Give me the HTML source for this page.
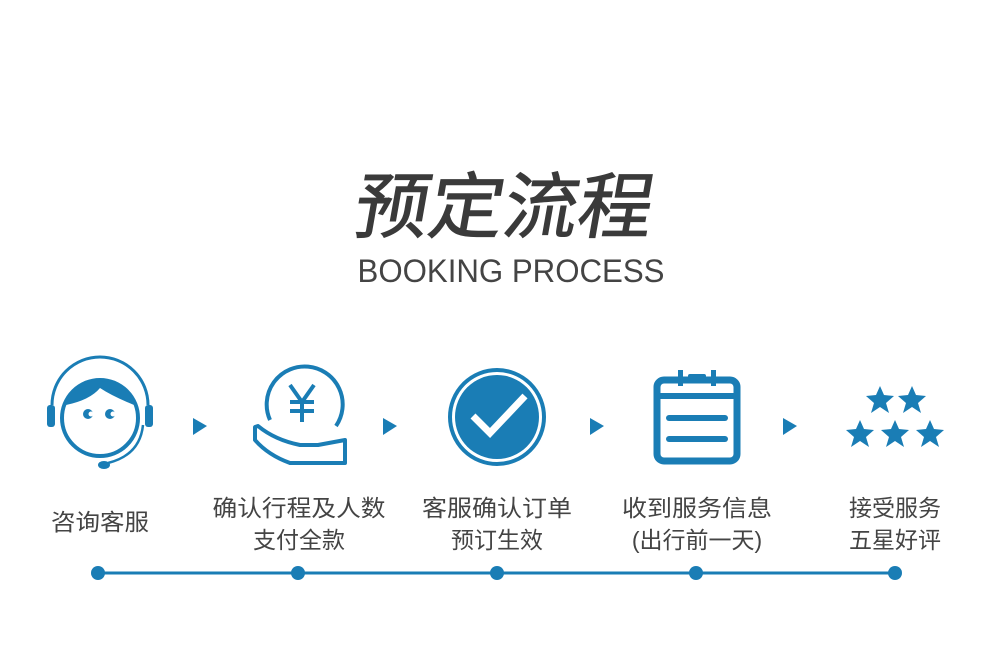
<!DOCTYPE html>
<html><head><meta charset="utf-8"><style>
html,body{margin:0;padding:0;background:#fff;}
svg{display:block;}
</style></head><body>
<svg width="1000" height="646" viewBox="0 0 1000 646" xmlns="http://www.w3.org/2000/svg">
<defs><polygon id="st" points="0,-14 4,-5 14,-4 6,3 9,13 0,7 -9,13 -6,3 -14,-4 -4,-5"/></defs>
<rect width="1000" height="646" fill="#fff"/>
<text x="500" y="232" text-anchor="middle" font-family="Liberation Sans, Noto Sans CJK SC, sans-serif" font-size="72" fill="#3a3a3a" stroke="#3a3a3a" stroke-width="1" transform="skewX(-10) translate(41,0)" textLength="298" lengthAdjust="spacingAndGlyphs">预定流程</text>
<text x="511" y="282" text-anchor="middle" font-family="Liberation Sans, sans-serif" font-size="32" fill="#444" textLength="307" lengthAdjust="spacingAndGlyphs">BOOKING PROCESS</text>

<g fill="none" stroke="#1a7db5" stroke-width="4">
 <circle cx="100" cy="418" r="38"/>
 <path d="M52 405 A48 48 0 0 1 148 405" stroke-width="3"/>
 <path d="M143 425 Q140 455 108 463" stroke-width="2.5"/>
 <path d="M270 420 A38 38 0 1 1 336 426"/>
 <path d="M255 427 L258 426 Q275 440 300 445 L318 445 L345 440 L345 463 L290 463 Q268 455 255 440 Z" stroke-linejoin="round"/>
 <circle cx="497" cy="417" r="47" stroke-width="4"/>
 <rect x="657" y="380" width="80" height="81" rx="7" stroke-width="7"/>
</g>
<g fill="#1a7db5">
 <path d="M66 405 Q70 382 100 381 Q130 382 134 405 Q112 396 100 388 Q90 400 66 405 Z"/>
 <rect x="47" y="405" width="8" height="22" rx="3"/>
 <rect x="145" y="405" width="8" height="22" rx="3"/>
 <ellipse cx="104" cy="465" rx="6" ry="4"/>
 <circle cx="88" cy="414" r="5"/><circle cx="110" cy="414" r="5"/>
 <circle cx="497" cy="417" r="42"/>
 <rect x="657" y="393" width="80" height="6"/>
 <rect x="678" y="370" width="5" height="16"/><rect x="711" y="370" width="5" height="16"/>
 <rect x="688" y="374" width="18" height="5" rx="2"/>
 <rect x="666" y="415" width="62" height="6" rx="3"/>
 <rect x="666" y="436" width="62" height="6" rx="3"/>
 <polygon points="193,418 207,426 193,435"/>
 <polygon points="383,418 397,426 383,435"/>
 <polygon points="590,418 604,426 590,435"/>
 <polygon points="783,418 797,426 783,435"/>
</g>
<g fill="#fff"><circle cx="91" cy="414" r="2.5"/><circle cx="113" cy="414" r="2.5"/></g>
<path d="M473 416 L490 433 L525 396" fill="none" stroke="#fff" stroke-width="7"/>
<g stroke="#1a7db5" stroke-width="4" fill="none">
 <path d="M290 385 L302 402 L314 385 M302 402 L302 422 M290 402 L314 402 M290 411 L314 411"/>
</g>
<g fill="#1a7db5">
 <use href="#st" x="880" y="400"/><use href="#st" x="912" y="400"/>
 <use href="#st" x="860" y="434"/><use href="#st" x="895" y="434"/><use href="#st" x="930" y="434"/>
</g>

<g font-family="Liberation Sans, Noto Sans CJK SC, sans-serif" font-size="23" fill="#444" text-anchor="middle">
 <text x="100" y="530" textLength="98" lengthAdjust="spacingAndGlyphs">咨询客服</text>
 <text x="299" y="516" textLength="173" lengthAdjust="spacingAndGlyphs">确认行程及人数</text>
 <text x="299" y="548">支付全款</text>
 <text x="497" y="516" textLength="150" lengthAdjust="spacingAndGlyphs">客服确认订单</text>
 <text x="497" y="548">预订生效</text>
 <text x="697" y="516" textLength="150" lengthAdjust="spacingAndGlyphs">收到服务信息</text>
 <text x="697" y="548">(出行前一天)</text>
 <text x="895" y="516">接受服务</text>
 <text x="895" y="548">五星好评</text>
</g>
<line x1="98" y1="573" x2="895" y2="573" stroke="#1a7db5" stroke-width="3"/>
<g fill="#1a7db5">
 <circle cx="98" cy="573" r="7"/><circle cx="298" cy="573" r="7"/><circle cx="497" cy="573" r="7"/><circle cx="696" cy="573" r="7"/><circle cx="895" cy="573" r="7"/>
</g>
</svg>
</body></html>
